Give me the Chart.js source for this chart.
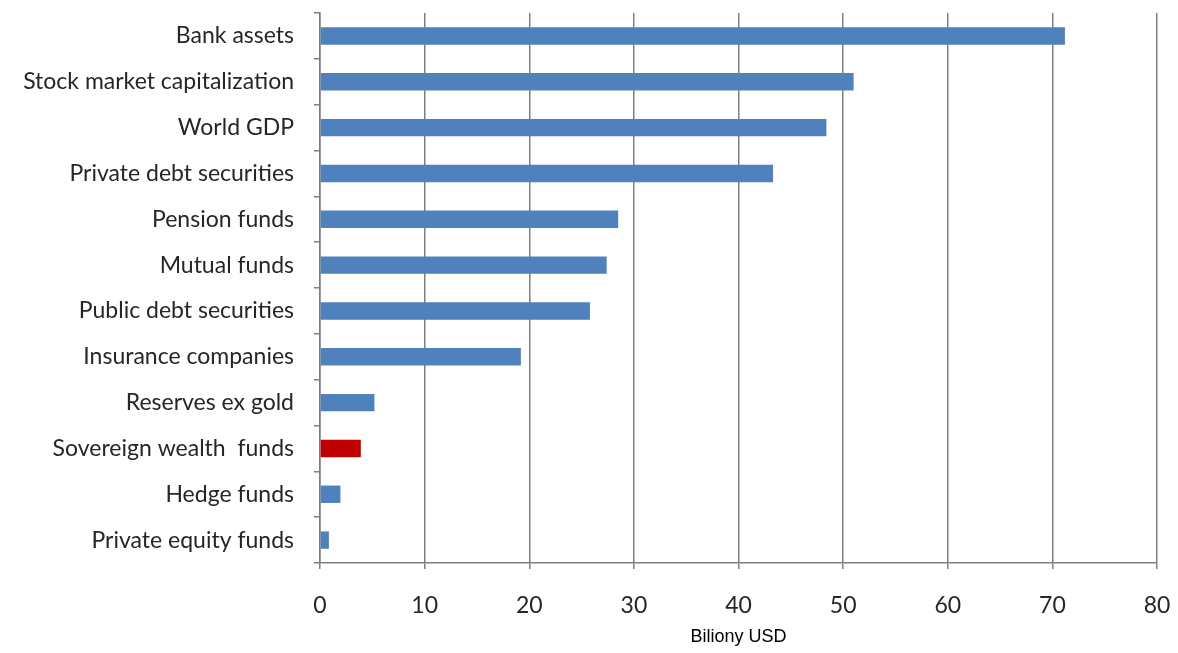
<!DOCTYPE html>
<html>
<head>
<meta charset="utf-8">
<script src="https://cdn.jsdelivr.net/npm/chart.js@4"></script>
<style>
  html, body { margin: 0; padding: 0; background: #ffffff; }
  #wrap { width: 1178px; height: 653px; position: relative; }
</style>
</head>
<body>
<div id="wrap"><canvas id="assetsChart"></canvas></div>
<script>
// categories, top to bottom
const categories = [
    'Bank assets',
    'Stock market capitalization',
    'World GDP',
    'Private debt securities',
    'Pension funds',
    'Mutual funds',
    'Public debt securities',
    'Insurance companies',
    'Reserves ex gold',
    'Sovereign wealth  funds',
    'Hedge funds',
    'Private equity funds'
];

// values in billions USD
const values = [71.2, 51.0, 48.4, 43.3, 28.5, 27.4, 25.8, 19.2, 5.2, 3.9, 1.95, 0.85];

// x axis tick labels
const xTicks = [0, 10, 20, 30, 40, 50, 60, 70, 80];
const xTitle = 'Biliony USD';

const blue = '#4F81BD';
const red = '#C00000';
const barColors = categories.map(c => c.startsWith('Sovereign') ? red : blue);

const labelFont = { family: 'Lato, "Open Sans", sans-serif', size: 23 };

const ctx = document.getElementById('assetsChart').getContext('2d');
new Chart(ctx, {
    type: 'bar',
    data: {
        labels: categories,
        datasets: [{
            data: values,
            backgroundColor: barColors,
            borderWidth: 0,
            barPercentage: 0.38,
            categoryPercentage: 1
        }]
    },
    options: {
        indexAxis: 'y',
        responsive: true,
        maintainAspectRatio: false,
        animation: false,
        layout: { padding: { top: 13, right: 21, bottom: 0, left: 0 } },
        plugins: {
            legend: { display: false },
            tooltip: { enabled: false }
        },
        scales: {
            x: {
                min: xTicks[0],
                max: xTicks[xTicks.length - 1],
                afterBuildTicks: axis => { axis.ticks = xTicks.map(v => ({ value: v })); },
                afterFit: axis => {
                    axis.height = 90;
                    axis.paddingLeft = 0;
                    axis.paddingRight = 0;
                },
                border: { display: true, color: '#7f7f7f', width: 1.5 },
                grid: {
                    color: '#7f7f7f',
                    lineWidth: 1.5,
                    drawTicks: true,
                    tickLength: 6,
                    tickColor: '#7f7f7f'
                },
                ticks: {
                    color: '#262626',
                    font: labelFont,
                    padding: 23
                },
                title: {
                    display: true,
                    text: xTitle,
                    color: '#000',
                    font: { family: '"Liberation Sans", Arial, sans-serif', size: 18 },
                    padding: { top: 0, bottom: 5 }
                }
            },
            y: {
                afterFit: axis => {
                    axis.width = 320;
                    axis.paddingTop = 0;
                    axis.paddingBottom = 0;
                },
                border: { display: true, color: '#7f7f7f', width: 1.5 },
                grid: {
                    offset: true,
                    drawOnChartArea: false,
                    drawTicks: true,
                    tickLength: 6,
                    color: '#7f7f7f',
                    lineWidth: 1.5
                },
                ticks: {
                    color: '#262626',
                    font: labelFont,
                    padding: 20
                }
            }
        }
    }
});
</script>
</body>
</html>
